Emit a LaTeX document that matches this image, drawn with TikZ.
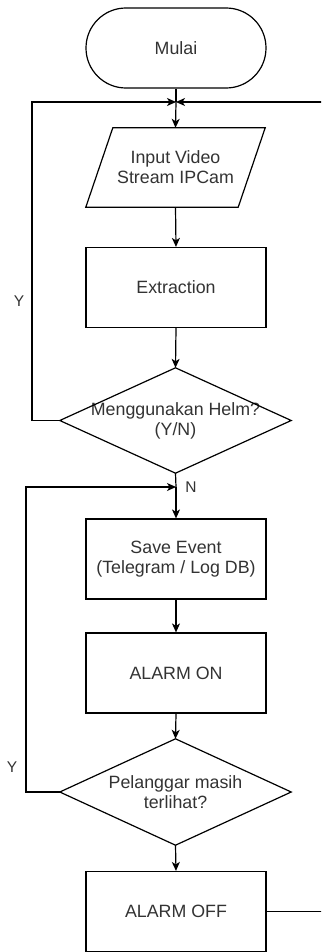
\documentclass[tikz,border=0pt]{standalone}
\usepackage{fontspec}
\setmainfont{Liberation Sans}
\usetikzlibrary{arrows.meta}
\definecolor{txt}{RGB}{51,51,51}
\begin{document}
\begin{tikzpicture}[x=1pt,y=-1pt,
  every node/.style={font=\fontsize{17.8}{20}\selectfont, text=txt, align=center, inner sep=0pt},
  box/.style={draw, line width=1.2pt, minimum width=180pt, minimum height=80pt},
  term/.style={box, rounded corners=39.9pt},
  shp/.style={minimum width=#1, minimum height=80pt},
  lbl/.style={font=\fontsize{15.5}{18}\selectfont},
  ln/.style={line width=1.2pt},
  arr/.style={ln, -{Stealth[length=9pt,width=8pt,inset=2.5pt]}}
]
\useasboundingbox (0,0) rectangle (321,952);
\clip (0,0) rectangle (321,952);
\fill[white] (0,0) rectangle (321,952);

\node[term] (mulai) at (176,48) {Mulai};
\coordinate (j1) at (176,102);
\node[minimum width=179pt, minimum height=79pt] (input) at (175.5,167.5) {Input Video\\Stream IPCam};
\draw[ln] ([xshift=27pt]input.north west) -- (input.north east) -- ([xshift=-27pt]input.south east) -- (input.south west) -- cycle;
\node[box] (extr) at (176,287.5) {Extraction};
\node[minimum width=231pt, minimum height=105pt] (d1) at (175.5,420.5) {Menggunakan Helm?\\(Y/N)};
\draw[ln] (d1.north) -- (d1.east) -- (d1.south) -- (d1.west) -- cycle;
\coordinate (j2) at (176,487);
\node[box] (save) at (176,559) {Save Event\\(Telegram / Log DB)};
\node[box] (alon) at (176,673) {ALARM ON};
\node[minimum width=231pt, minimum height=106pt] (d2) at (175.5,792) {Pelanggar masih\\terlihat?};
\draw[ln] (d2.north) -- (d2.east) -- (d2.south) -- (d2.west) -- cycle;
\node[box] (aloff) at (176,911.5) {ALARM OFF};

\coordinate (l1) at (32,420.5);
\coordinate (l1t) at (32,102);
\coordinate (l2) at (26,792);
\coordinate (l2t) at (26,487);
\coordinate (r1) at (330,911.5);
\coordinate (r1t) at (330,102);

\draw[ln] (mulai.south) -- (j1);
\draw[arr] (j1) -- (input.north);
\draw[arr] (input.south) -- (extr.north);
\draw[arr] (extr.south) -- (d1.north);
\draw[arr] (d1.west) -- (l1) -- (l1t) -- (j1);
\draw[arr] (aloff.east) -- (r1) -- (r1t) -- (j1);
\draw[ln] (d1.south) -- (j2);
\draw[arr] (j2) -- (save.north);
\draw[arr] (save.south) -- (alon.north);
\draw[arr] (alon.south) -- (d2.north);
\draw[arr] (d2.west) -- (l2) -- (l2t) -- (j2);
\draw[arr] (d2.south) -- (aloff.north);

\node[lbl] (y1) at (19,301) {Y};
\node[lbl] (n1) at (191,487) {N};
\node[lbl] (y2) at (12,767) {Y};
\end{tikzpicture}
\end{document}
